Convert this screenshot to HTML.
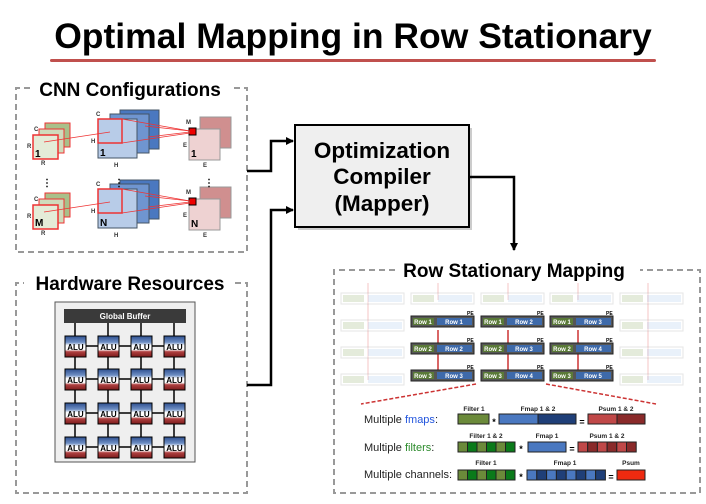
<!DOCTYPE html>
<html><head><meta charset="utf-8"><style>
body{margin:0;background:#fff;}
svg{display:block;font-family:"Liberation Sans",sans-serif;}
</style></head><body>
<svg width="706" height="504" viewBox="0 0 706 504" xmlns="http://www.w3.org/2000/svg">
<defs>
<marker id="ah" markerWidth="8" markerHeight="8" refX="7" refY="4" orient="auto" markerUnits="userSpaceOnUse"><path d="M0,0 L8,4 L0,8 z" fill="#000"/></marker>
<linearGradient id="alu" x1="0" y1="0" x2="0" y2="1">
<stop offset="0" stop-color="#2d4f8e"/><stop offset="0.3" stop-color="#6f8fc4"/><stop offset="0.45" stop-color="#fff"/><stop offset="0.65" stop-color="#fff"/><stop offset="0.75" stop-color="#b04040"/><stop offset="1" stop-color="#7a1c1c"/>
</linearGradient>
</defs>
<text x="353" y="48" font-size="35.5" font-weight="bold" text-anchor="middle">Optimal Mapping in Row Stationary</text>
<rect x="50" y="59" width="606" height="3" rx="1.5" fill="#c0504d"/>

<!-- CNN box -->
<path d="M30,88 H16 V252 H247 V88 H232" fill="none" stroke="#999" stroke-width="2" stroke-dasharray="6,4"/>
<rect x="32" y="78" width="198" height="22" fill="#fff"/>
<text x="130" y="96" font-size="19" font-weight="700" text-anchor="middle" style="font-weight:bold">CNN Configurations</text>
<g id="cnnrow">
<rect x="45" y="123" width="25" height="24" fill="#a9c08a" stroke="#e33" stroke-width="1"/>
<rect x="39" y="129" width="25" height="24" fill="#cfdcbc" stroke="#e33" stroke-width="1"/>
<rect x="33" y="135" width="25" height="24" fill="#e4ecd8" stroke="#e33" stroke-width="1.5"/>
<rect x="120" y="110" width="39" height="39" fill="#4a78c0" stroke="#456"/>
<rect x="110" y="114" width="39" height="39" fill="#6f95d0" stroke="#456"/>
<rect x="98" y="119" width="39" height="39" fill="#b8cce8" stroke="#456"/>
<rect x="98" y="119" width="24" height="24" fill="none" stroke="#e33" stroke-width="1.5"/>
<rect x="200" y="117" width="31" height="31" fill="#d08f8f" stroke="#999"/>
<rect x="189" y="129" width="31" height="31" fill="#eed2d2" stroke="#999"/>
<rect x="189" y="128" width="7" height="7" fill="#e00" stroke="#000" stroke-width="1"/>
<g stroke="#e33" stroke-width="0.8"><line x1="44" y1="142" x2="110" y2="132"/><line x1="122" y1="119" x2="190" y2="131"/><line x1="122" y1="143" x2="190" y2="133"/><line x1="145" y1="126" x2="190" y2="131"/><line x1="148" y1="137" x2="190" y2="132"/></g>
<g font-size="6" font-weight="bold" fill="#333"><text x="27" y="148">R</text><text x="41" y="165">R</text><text x="91" y="143">H</text><text x="114" y="167">H</text><text x="183" y="147">E</text><text x="203" y="167">E</text><text x="34" y="131">C</text><text x="96" y="116">C</text><text x="186" y="124">M</text></g>
</g>
<text x="35" y="157" font-size="10" font-weight="bold">1</text>
<text x="100" y="156" font-size="10" font-weight="bold">1</text>
<text x="191" y="157" font-size="10" font-weight="bold">1</text>
<use href="#cnnrow" transform="translate(0,70)"/>
<text x="35" y="226" font-size="10" font-weight="bold">M</text>
<text x="100" y="226" font-size="10" font-weight="bold">N</text>
<text x="191" y="227" font-size="10" font-weight="bold">N</text>
<g font-size="10" font-weight="bold" text-anchor="middle"><text x="47" y="186">⋮</text><text x="119" y="186">⋮</text><text x="209" y="186">⋮</text></g>

<!-- HW box -->
<path d="M235,283 H247 V493 H16 V283 H24" fill="none" stroke="#999" stroke-width="2" stroke-dasharray="6,4"/>
<text x="130" y="290" font-size="19" font-weight="bold" text-anchor="middle">Hardware Resources</text>
<rect x="55" y="302" width="140" height="160" fill="#efefef" stroke="#555" stroke-width="1"/>
<rect x="64" y="309" width="122" height="14" fill="#3a3a3a"/>
<text x="125" y="319" font-size="8" font-weight="bold" fill="#fff" text-anchor="middle">Global Buffer</text>
<g stroke="#000" stroke-width="1.5">
<line x1="75" y1="323" x2="75" y2="336"/><line x1="108" y1="323" x2="108" y2="336"/><line x1="141" y1="323" x2="141" y2="336"/><line x1="174" y1="323" x2="174" y2="336"/>
<line x1="75" y1="336" x2="75" y2="458"/><line x1="108" y1="336" x2="108" y2="458"/><line x1="141" y1="336" x2="141" y2="458"/><line x1="174" y1="336" x2="174" y2="458"/>
<line x1="75" y1="346" x2="174" y2="346"/><line x1="75" y1="379" x2="174" y2="379"/><line x1="75" y1="413" x2="174" y2="413"/><line x1="75" y1="447" x2="174" y2="447"/>
</g>
<g id="alurow" font-size="8" font-weight="bold" text-anchor="middle">
<rect x="65" y="336" width="21" height="21" fill="url(#alu)" stroke="#000"/><text x="75.5" y="350">ALU</text>
<rect x="98" y="336" width="21" height="21" fill="url(#alu)" stroke="#000"/><text x="108.5" y="350">ALU</text>
<rect x="131" y="336" width="21" height="21" fill="url(#alu)" stroke="#000"/><text x="141.5" y="350">ALU</text>
<rect x="164" y="336" width="21" height="21" fill="url(#alu)" stroke="#000"/><text x="174.5" y="350">ALU</text>
</g>
<use href="#alurow" transform="translate(0,33)"/>
<use href="#alurow" transform="translate(0,67)"/>
<use href="#alurow" transform="translate(0,101)"/>

<!-- Compiler -->
<rect x="298" y="128" width="174" height="102" fill="#999" opacity="0.5"/>
<rect x="295" y="125" width="174" height="102" fill="#efefef" stroke="#000" stroke-width="2"/>
<g font-size="22.5" font-weight="bold" text-anchor="middle"><text x="382" y="158">Optimization</text><text x="382" y="184">Compiler</text><text x="382" y="211">(Mapper)</text></g>
<g fill="none" stroke="#000" stroke-width="2.5">
<path d="M247,171 H271 V141 H293" marker-end="url(#ah)"/>
<path d="M247,385 H271 V210 H293" marker-end="url(#ah)"/>
<path d="M469,177 H514 V250" marker-end="url(#ah)"/>
</g>

<!-- Row stationary -->
<path d="M395,270 H334 V493 H700 V270 H640" fill="none" stroke="#999" stroke-width="2" stroke-dasharray="6,4"/>
<text x="514" y="277" font-size="19" font-weight="bold" text-anchor="middle">Row Stationary Mapping</text>
<g stroke="#f4c4c4" stroke-width="1"><line x1="368" y1="283" x2="368" y2="380"/><line x1="438" y1="283" x2="438" y2="300"/><line x1="508" y1="283" x2="508" y2="300"/><line x1="578" y1="283" x2="578" y2="300"/><line x1="648" y1="283" x2="648" y2="380"/></g>
<g id="fpe" opacity="0.3">
<rect x="341" y="293" width="63" height="11" fill="#fff" stroke="#aaa"/>
<rect x="343" y="295" width="21" height="7" fill="#a9c08a"/><rect x="368" y="295" width="34" height="7" fill="#b8d4f0"/>
</g>
<use href="#fpe" transform="translate(70,0)"/><use href="#fpe" transform="translate(140,0)"/><use href="#fpe" transform="translate(209,0)"/><use href="#fpe" transform="translate(279,0)"/>
<use href="#fpe" transform="translate(0,27)"/><use href="#fpe" transform="translate(279,27)"/>
<use href="#fpe" transform="translate(0,54)"/><use href="#fpe" transform="translate(279,54)"/>
<use href="#fpe" transform="translate(0,81)"/><use href="#fpe" transform="translate(279,81)"/>
<g stroke="#c33" stroke-width="1.5"><line x1="438" y1="330" x2="438" y2="375"/><line x1="508" y1="330" x2="508" y2="375"/><line x1="578" y1="330" x2="578" y2="375"/></g>
<g font-size="6" font-weight="bold" fill="#fff" text-anchor="middle">
<g id="ape"><rect x="411" y="316" width="63" height="11" fill="#555" stroke="#222"/><rect x="413" y="318" width="21" height="7" fill="#5a7a38"/><rect x="437" y="318" width="35" height="7" fill="#3e6aaa"/></g>
<use href="#ape" transform="translate(70,0)"/><use href="#ape" transform="translate(139,0)"/>
<use href="#ape" transform="translate(0,27)"/><use href="#ape" transform="translate(70,27)"/><use href="#ape" transform="translate(139,27)"/>
<use href="#ape" transform="translate(0,54)"/><use href="#ape" transform="translate(70,54)"/><use href="#ape" transform="translate(139,54)"/>
<text x="423" y="324">Row 1</text><text x="454" y="324">Row 1</text><text x="493" y="324">Row 1</text><text x="524" y="324">Row 2</text><text x="562" y="324">Row 1</text><text x="593" y="324">Row 3</text>
<text x="423" y="351">Row 2</text><text x="454" y="351">Row 2</text><text x="493" y="351">Row 2</text><text x="524" y="351">Row 3</text><text x="562" y="351">Row 2</text><text x="593" y="351">Row 4</text>
<text x="423" y="378">Row 3</text><text x="454" y="378">Row 3</text><text x="493" y="378">Row 3</text><text x="524" y="378">Row 4</text><text x="562" y="378">Row 3</text><text x="593" y="378">Row 5</text>
</g>
<g font-size="5" font-weight="bold" fill="#000"><text x="467" y="315">PE</text><text x="537" y="315">PE</text><text x="606" y="315">PE</text><text x="467" y="342">PE</text><text x="537" y="342">PE</text><text x="606" y="342">PE</text><text x="467" y="369">PE</text><text x="537" y="369">PE</text><text x="606" y="369">PE</text></g>
<g stroke="#c33" stroke-width="1.5" stroke-dasharray="4,2"><line x1="476" y1="384" x2="361" y2="404"/><line x1="546" y1="384" x2="656" y2="404"/></g>

<g font-size="11" fill="#222">
<text x="364" y="423">Multiple <tspan fill="#2255dd">fmaps</tspan>:</text>
<text x="364" y="451">Multiple <tspan fill="#2a8a2a">filters</tspan>:</text>
<text x="364" y="478">Multiple channels:</text>
</g>
<g font-size="6.5" font-weight="bold" fill="#222" text-anchor="middle">
<text x="474" y="411">Filter 1</text><text x="538" y="411">Fmap 1 &amp; 2</text><text x="616" y="411">Psum 1 &amp; 2</text>
<text x="486" y="438">Filter 1 &amp; 2</text><text x="547" y="438">Fmap 1</text><text x="607" y="438">Psum 1 &amp; 2</text>
<text x="486" y="465">Filter 1</text><text x="565" y="465">Fmap 1</text><text x="631" y="465">Psum</text>
</g>
<g font-size="9" font-weight="bold" text-anchor="middle"><text x="494" y="425">*</text><text x="582" y="425">=</text><text x="521" y="452">*</text><text x="572" y="452">=</text><text x="521" y="480">*</text><text x="611" y="480">=</text></g>
<g stroke="#222" stroke-width="1">
<rect x="458" y="414" width="31" height="10" fill="#6b8a3a"/>
<rect x="499" y="414" width="39" height="10" fill="#4a78c0"/><rect x="538" y="414" width="38" height="10" fill="#1f3f78"/>
<rect x="588" y="414" width="29" height="10" fill="#c04848"/><rect x="617" y="414" width="28" height="10" fill="#8a2a2a"/>
<rect x="458" y="442" width="9.5" height="10" fill="#6b8a3a"/><rect x="467.5" y="442" width="9.5" height="10" fill="#0a7a1a"/><rect x="477" y="442" width="9.5" height="10" fill="#6b8a3a"/><rect x="486.5" y="442" width="9.5" height="10" fill="#0a7a1a"/><rect x="496" y="442" width="9.5" height="10" fill="#6b8a3a"/><rect x="505.5" y="442" width="9.5" height="10" fill="#0a7a1a"/>
<rect x="528" y="442" width="38" height="10" fill="#4a78c0"/>
<rect x="578" y="442" width="9.7" height="10" fill="#c04848"/><rect x="587.7" y="442" width="9.7" height="10" fill="#8a2a2a"/><rect x="597.4" y="442" width="9.7" height="10" fill="#c04848"/><rect x="607.1" y="442" width="9.7" height="10" fill="#8a2a2a"/><rect x="616.8" y="442" width="9.7" height="10" fill="#c04848"/><rect x="626.5" y="442" width="9.7" height="10" fill="#8a2a2a"/>
<rect x="458" y="470" width="9.5" height="10" fill="#6b8a3a"/><rect x="467.5" y="470" width="9.5" height="10" fill="#0a7a1a"/><rect x="477" y="470" width="9.5" height="10" fill="#6b8a3a"/><rect x="486.5" y="470" width="9.5" height="10" fill="#0a7a1a"/><rect x="496" y="470" width="9.5" height="10" fill="#6b8a3a"/><rect x="505.5" y="470" width="9.5" height="10" fill="#0a7a1a"/>
<rect x="527" y="470" width="9.8" height="10" fill="#4a78c0"/><rect x="536.8" y="470" width="9.8" height="10" fill="#1f3f78"/><rect x="546.6" y="470" width="9.8" height="10" fill="#4a78c0"/><rect x="556.4" y="470" width="9.8" height="10" fill="#1f3f78"/><rect x="566.2" y="470" width="9.8" height="10" fill="#4a78c0"/><rect x="576" y="470" width="9.8" height="10" fill="#1f3f78"/><rect x="585.8" y="470" width="9.8" height="10" fill="#4a78c0"/><rect x="595.6" y="470" width="9.8" height="10" fill="#1f3f78"/>
<rect x="617" y="470" width="28" height="10" fill="#ee2a10"/>
</g>
</svg>
</body></html>
